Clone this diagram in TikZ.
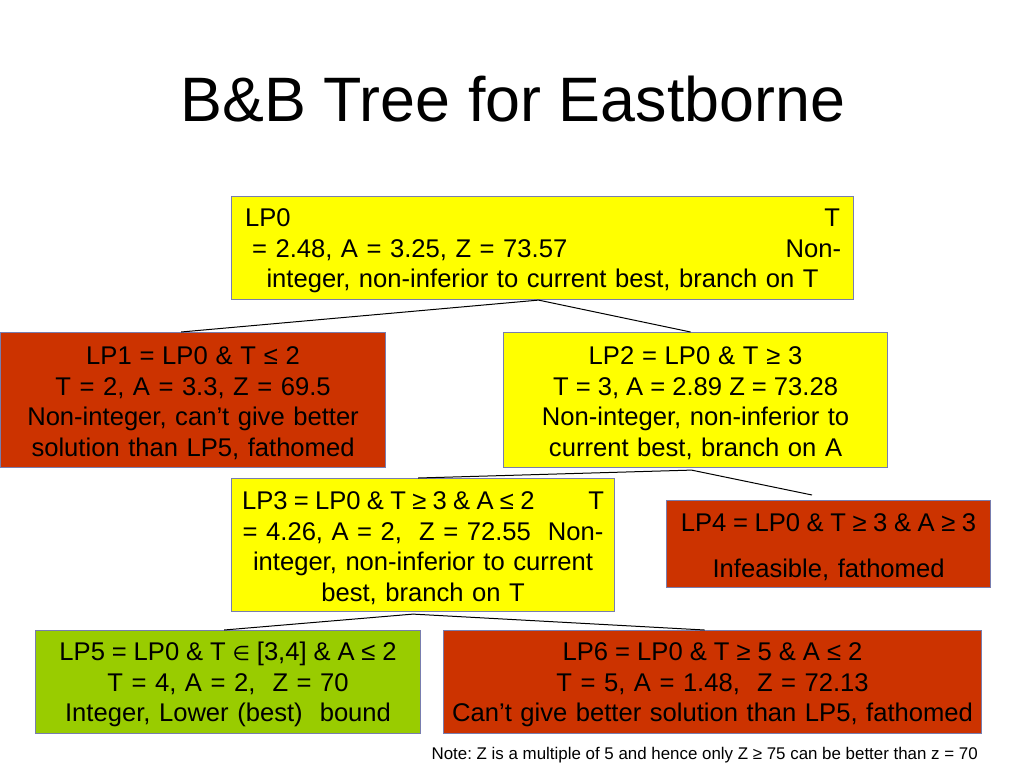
\documentclass[tikz,border=0pt]{standalone}
\usepackage{fontspec}
\setmainfont{Liberation Sans}
\newfontfamily\symfont{DejaVu Sans}
\usetikzlibrary{calc}
\definecolor{bbyellow}{RGB}{255,255,0}
\definecolor{bbred}{RGB}{204,51,0}
\definecolor{bbgreen}{RGB}{153,204,0}
\definecolor{bbborder}{RGB}{120,125,175}
\newcommand\spc[2]{{\spaceskip=#1 plus 1pt minus 1pt\relax #2}}
\frenchspacing
\begin{document}
\begin{tikzpicture}[x=1pt,y=-1pt,
  lpbox/.style={draw=bbborder, line width=1.1pt, anchor=north west, inner xsep=0pt, inner ysep=0pt,
    align=center, font=\fontsize{25.6pt}{30.5pt}\selectfont\frenchspacing,
    execute at begin node={\rule{0pt}{24pt}}},
  conn/.style={draw=black, line width=1pt}]
\useasboundingbox[fill=white] (0,0) rectangle (1024,768);

\node[anchor=base, font=\fontsize{62.8pt}{70pt}\selectfont] (title) at (513,121) {B\&B Tree for Eastborne};

\node[lpbox, fill=bbyellow, text width=622pt, minimum height=103pt] (lp0) at (231,196)
  {\makebox[595pt]{LP0\hfill T}\\
   \makebox[597pt]{\hspace{8pt}= 2.48, A = 3.25, Z = 73.57\hfill Non-}\\
   integer, non-inferior to current best, branch on T};

\node[lpbox, fill=bbred, text width=385pt, minimum height=135pt] (lp1) at (0,332)
  {\spc{6.1pt}{LP1 = LP0 \& T ≤ 2}\\ T = 2, A = 3.3, Z = 69.5\\ Non-integer, can’t give better\\ solution than LP5, fathomed};

\node[lpbox, fill=bbyellow, text width=384pt, minimum height=135pt] (lp2) at (503,332)
  {\spc{6.1pt}{LP2 = LP0 \& T ≥ 3}\\ \spc{6.1pt}{T = 3, A = 2.89 Z = 73.28}\\ Non-integer, non-inferior to\\ current best, branch on A};

\node[lpbox, fill=bbyellow, text width=383pt, minimum height=133pt] (lp3) at (231,478)
  {\makebox[362pt]{\spc{6.3pt}{LP3 = LP0 \& T ≥ 3 \& A ≤ 2}\hfill T}\\
   = 4.26, A = 2,\ \ Z = 72.55\ \ Non-\\ integer, non-inferior to current\\ best, branch on T};

\node[lpbox, fill=bbred, text width=324pt, minimum height=87pt] (lp4) at (666,500)
  {\spc{6.3pt}{LP4 = LP0 \& T ≥ 3 \& A ≥ 3}\\[16pt] Infeasible, fathomed};

\node[lpbox, fill=bbgreen, text width=385pt, minimum height=103pt] (lp5) at (35,630)
  {\spc{6.4pt}{LP5 = LP0 \& T {\symfont\fontsize{20pt}{24pt}\selectfont ∈} [3,4] \& A ≤ 2}\\ T = 4, A = 2,\ \ Z = 70\\ Integer, Lower (best)\ \ bound};

\node[lpbox, fill=bbred, text width=538pt, minimum height=103pt] (lp6) at (443,630)
  {\spc{4.7pt}{LP6 = LP0 \& T ≥ 5 \& A ≤ 2}\\ T = 5, A = 1.48,\ \ Z = 72.13\\ Can’t give better solution than LP5, fathomed};

\node[anchor=base east, inner sep=0pt, font=\fontsize{16.9pt}{19pt}\selectfont] (note) at (978,759)
  {Note: Z is a multiple of 5 and hence only Z ≥ 75 can be better than z = 70};

\coordinate (e4) at (812,495);

\draw[conn] ($(lp0.south)+(-4,0)$) -- ($(lp1.north)+(-12,0)$);
\draw[conn] ($(lp0.south)+(-4,0)$) -- ($(lp2.north)+(-5,0)$);
\draw[conn] ($(lp2.south)+(-4,2)$) -- ($(lp3.north)+(-5,0)$);
\draw[conn] ($(lp2.south)+(-4,2)$) -- (e4);
\draw[conn] ($(lp3.south)+(-10,2)$) -- ($(lp5.north)+(-4,0)$);
\draw[conn] ($(lp3.south)+(-10,2)$) -- ($(lp6.north)+(-8,0)$);
\end{tikzpicture}
\end{document}
